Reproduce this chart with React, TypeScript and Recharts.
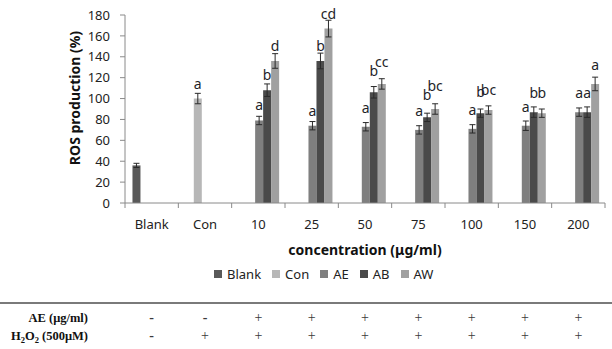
import { BarChart, Bar, XAxis, YAxis, ErrorBar, LabelList } from "recharts";

// categories on the x axis
const categories = ["Blank", "Con", "10", "25", "50", "75", "100", "150", "200"];

// bar heights (%)
const blankValues = [36, null, null, null, null, null, null, null, null];
const conValues = [null, 100, null, null, null, null, null, null, null];
const aeValues = [null, null, 79, 74, 73, 70, 71, 74, 87];
const abValues = [null, null, 108, 136, 106, 82, 86, 87, 87];
const awValues = [null, null, 136, 167, 114, 90, 89, 86, 114];

// error bars (+/-)
const blankErrors = [2, null, null, null, null, null, null, null, null];
const conErrors = [null, 5, null, null, null, null, null, null, null];
const aeErrors = [null, null, 4, 4, 4, 4, 4, 4.5, 4];
const abErrors = [null, null, 6, 7.5, 5.5, 4, 4, 5, 5];
const awErrors = [null, null, 7, 8, 5, 5, 4, 4, 6.5];

// significance letters
const blankLetters = [null, null, null, null, null, null, null, null, null];
const conLetters = [null, "a", null, null, null, null, null, null, null];
const aeLetters = [null, null, "a", "a", "a", "a", "a", "a", "a"];
const abLetters = [null, null, "b", "b", "b", "b", "b", "b", "a"];
const awLetters = [null, null, "d", "cd", "cc", "bc", "bc", "b", "a"];

const yTicks = [0, 20, 40, 60, 80, 100, 120, 140, 160, 180];

// treatment table under the chart
const aeRow = ["-", "-", "+", "+", "+", "+", "+", "+", "+"];
const h2o2Row = ["-", "+", "+", "+", "+", "+", "+", "+", "+"];

const series = [
  { key: "Blank", values: blankValues, errors: blankErrors, letters: blankLetters, color: "#595959" },
  { key: "Con", values: conValues, errors: conErrors, letters: conLetters, color: "#b7b7b7" },
  { key: "AE", values: aeValues, errors: aeErrors, letters: aeLetters, color: "#7f7f7f" },
  { key: "AB", values: abValues, errors: abErrors, letters: abLetters, color: "#4a4a4a" },
  { key: "AW", values: awValues, errors: awErrors, letters: awLetters, color: "#a0a0a0" },
];

const data = categories.map((cat, i) => {
  const row: any = { cat };
  series.forEach((s) => {
    row[s.key] = s.values[i];
    row[s.key + "Err"] = s.errors[i];
    row[s.key + "Lab"] = s.letters[i];
  });
  return row;
});

const W = 612;
const H = 349;
const MARGIN = { top: 15, right: 7, bottom: 89, left: 0 };
const Y_AXIS_W = 125;
const X_AXIS_H = 57;
const PLOT_W = W - MARGIN.left - MARGIN.right - Y_AXIS_W;
const PLOT_H = H - MARGIN.top - MARGIN.bottom - X_AXIS_H;
const Y_MAX = 180;
const BAND = PLOT_W / categories.length;
const FONT = "'Noto Sans', sans-serif";
const SERIF = "'Liberation Serif', serif";
const AXIS_COLOR = "#8a8a8a";

const letterLabel = (errors: (number | null)[]) => (props: any) => {
  const { x, y, width, value, index } = props;
  if (!value) return null;
  const err = errors[index] ?? 0;
  const top = y - (err * PLOT_H) / Y_MAX;
  return (
    <text x={x + width / 2} y={top - 10} textAnchor="middle" fontSize={14} fill="#1f1f2a" fontFamily={FONT}>
      {value}
    </text>
  );
};

const CategoryTick = (props: any) => {
  const { x, y, payload, index } = props;
  return (
    <g>
      <line x1={x - BAND / 2} x2={x - BAND / 2} y1={y} y2={y + 5} stroke={AXIS_COLOR} />
      {index === categories.length - 1 && (
        <line x1={x + BAND / 2} x2={x + BAND / 2} y1={y} y2={y + 5} stroke={AXIS_COLOR} />
      )}
      <text x={x} y={y + 25.5} textAnchor="middle" fontSize={13} fill="#222" fontFamily={FONT}>
        {payload.value}
      </text>
    </g>
  );
};

export default function App() {
  const catX = (i: number) => MARGIN.left + Y_AXIS_W + BAND * (i + 0.5);
  return (
    <div style={{ position: "absolute", left: 0, top: 0, width: W, height: H, background: "#fff", fontFamily: FONT }}>
      <BarChart
        width={W}
        height={H}
        data={data}
        margin={MARGIN}
        barCategoryGap="14%"
        barGap={0}
      >
        <XAxis
          dataKey="cat"
          height={X_AXIS_H}
          stroke={AXIS_COLOR}
          tickLine={false}
          tickSize={0}
          tickMargin={0}
          interval={0}
          tick={<CategoryTick />}
          label={{
            content: () => (
              <text x={365} y={255} textAnchor="middle" fontSize={14} fontWeight="bold" fill="#111" fontFamily={FONT}>
                concentration (μg/ml)
              </text>
            ),
          }}
        />
        <YAxis
          width={Y_AXIS_W}
          domain={[0, Y_MAX]}
          ticks={yTicks}
          interval={0}
          stroke={AXIS_COLOR}
          tickSize={5}
          tickMargin={10}
          tick={{ fontSize: 13, fill: "#222", fontFamily: FONT }}
          label={{
            content: () => (
              <text
                x={80}
                y={98}
                transform="rotate(-90 80 98)"
                textAnchor="middle"
                fontSize={14}
                fontWeight="bold"
                fill="#111"
                fontFamily={FONT}
              >
                ROS production (%)
              </text>
            ),
          }}
        />
        {series.map((s) => (
          <Bar key={s.key} dataKey={s.key} fill={s.color} isAnimationActive={false}>
            <ErrorBar dataKey={s.key + "Err"} width={3} stroke="#2a2a2a" strokeWidth={1} direction="y" />
            <LabelList dataKey={s.key + "Lab"} content={letterLabel(s.errors)} />
          </Bar>
        ))}
      </BarChart>

      {/* legend */}
      <div
        style={{
          position: "absolute",
          left: 214,
          top: 265,
          display: "flex",
          alignItems: "center",
          fontSize: 13,
          color: "#222",
          lineHeight: "18px",
        }}
      >
        {series.map((s) => (
          <div key={s.key} style={{ display: "flex", alignItems: "center", marginRight: 11 }}>
            <span style={{ width: 8, height: 8, background: s.color, marginRight: 5, display: "inline-block" }} />
            <span>{s.key}</span>
          </div>
        ))}
      </div>

      {/* treatment table */}
      <svg width={W} height={H} style={{ position: "absolute", left: 0, top: 0, pointerEvents: "none" }}>
        <line x1={0} x2={W} y1={303} y2={303} stroke="#7a7a7a" strokeWidth={2} />
        <text x={88} y={322} textAnchor="end" fontSize={12.5} fontWeight="bold" fontFamily={SERIF} fill="#111">
          AE (μg/ml)
        </text>
        <text x={88} y={340} textAnchor="end" fontSize={12.5} fontWeight="bold" fontFamily={SERIF} fill="#111">
          H<tspan fontSize={8.5} dy={3}>2</tspan>
          <tspan dy={-3}>O</tspan>
          <tspan fontSize={8.5} dy={3}>2</tspan>
          <tspan dy={-3}> (500μM)</tspan>
        </text>
        {aeRow.map((m, i) => (
          <text
            key={"ae" + i}
            x={catX(i)}
            y={322}
            textAnchor="middle"
            fontSize={14}
            fontWeight={m === "-" ? "bold" : "normal"}
            fontFamily={SERIF}
            fill="#3a3a3a"
          >
            {m}
          </text>
        ))}
        {h2o2Row.map((m, i) => (
          <text
            key={"h" + i}
            x={catX(i)}
            y={340}
            textAnchor="middle"
            fontSize={14}
            fontWeight={m === "-" ? "bold" : "normal"}
            fontFamily={SERIF}
            fill="#3a3a3a"
          >
            {m}
          </text>
        ))}
      </svg>
    </div>
  );
}
